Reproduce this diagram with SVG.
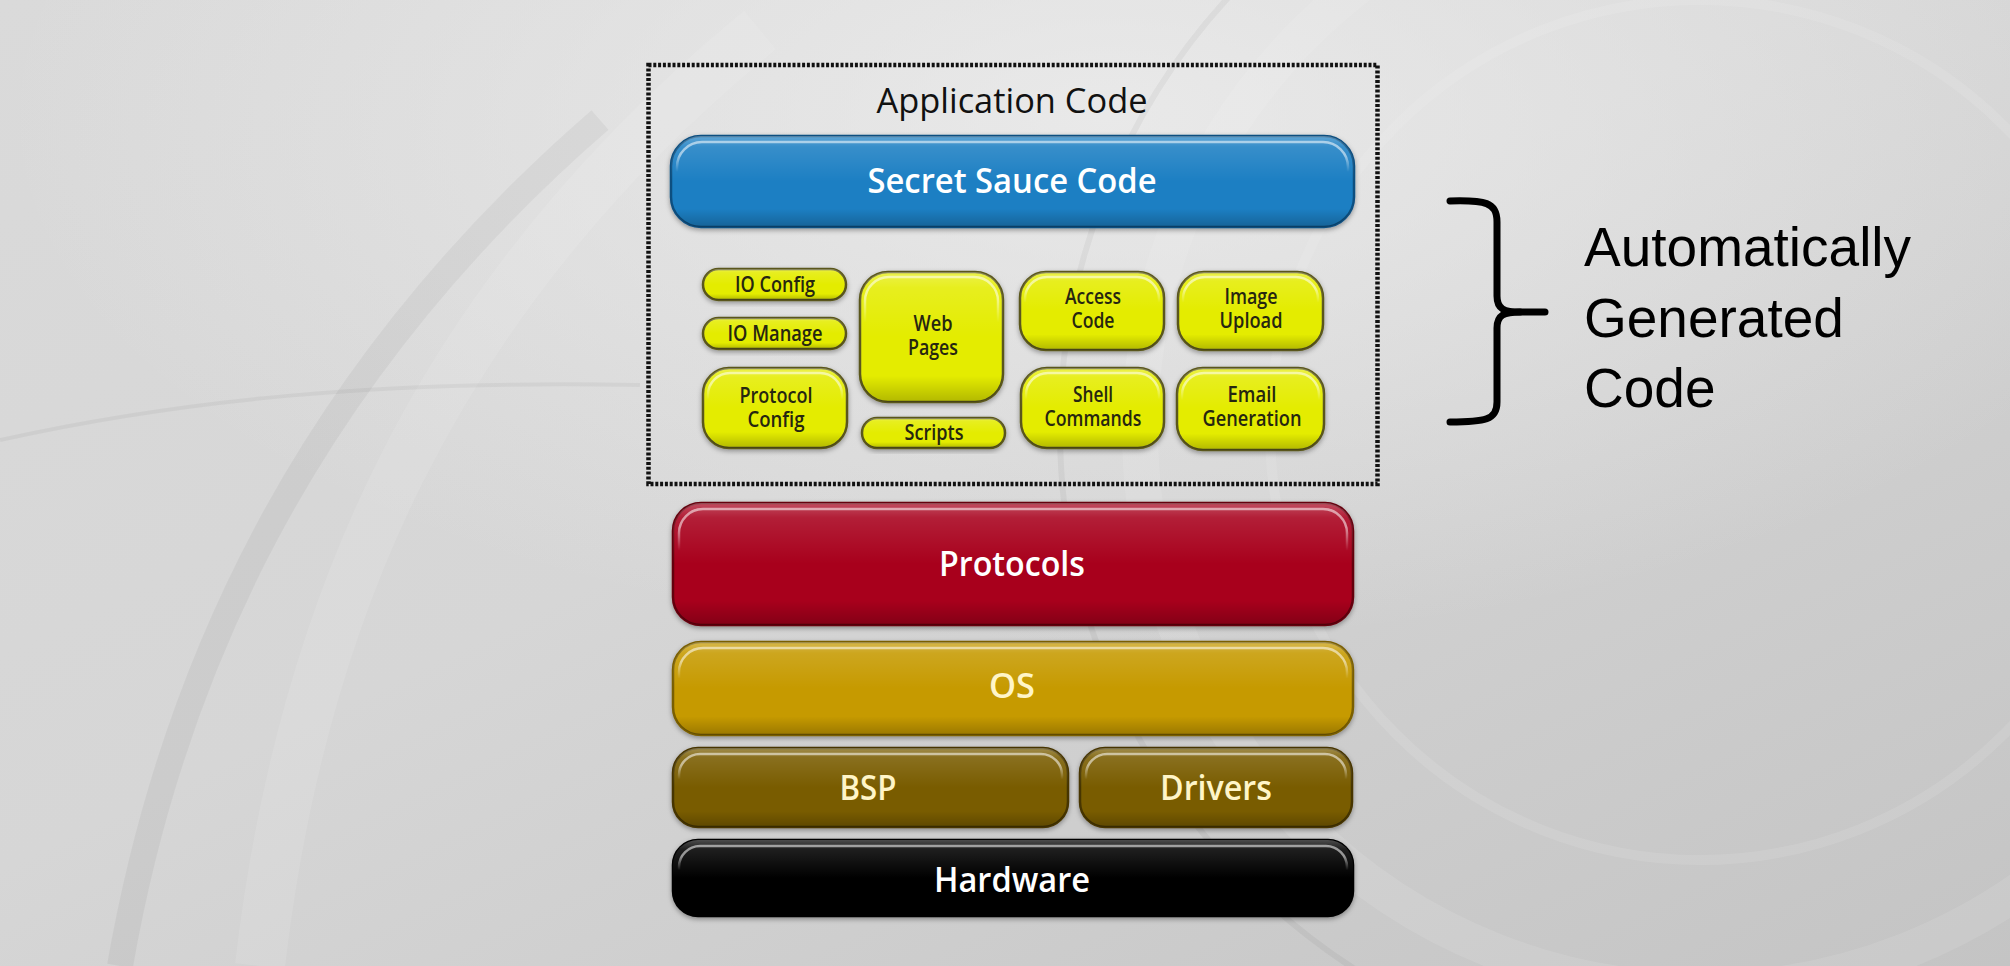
<svg xmlns="http://www.w3.org/2000/svg" width="2010" height="966" viewBox="0 0 2010 966">
  <defs>
    <linearGradient id="bg" x1="0" y1="0" x2="1" y2="1">
      <stop offset="0" stop-color="#dadada"/>
      <stop offset="0.45" stop-color="#d6d6d6"/>
      <stop offset="1" stop-color="#c4c4c4"/>
    </linearGradient>
    <radialGradient id="bgGlow" cx="0.55" cy="0.12" r="0.55">
      <stop offset="0" stop-color="#efefef" stop-opacity="0.75"/>
      <stop offset="1" stop-color="#efefef" stop-opacity="0"/>
    </radialGradient>
    <linearGradient id="gloss" x1="0" y1="0" x2="0" y2="1">
      <stop offset="0" stop-color="#fff" stop-opacity="0.30"/>
      <stop offset="0.12" stop-color="#fff" stop-opacity="0.12"/>
      <stop offset="0.5" stop-color="#fff" stop-opacity="0"/>
      <stop offset="0.8" stop-color="#000" stop-opacity="0"/>
      <stop offset="1" stop-color="#000" stop-opacity="0.22"/>
    </linearGradient>
    <linearGradient id="fade" x1="0" y1="0" x2="0" y2="1">
      <stop offset="0" stop-color="#fff"/>
      <stop offset="0.22" stop-color="#fff"/>
      <stop offset="0.4" stop-color="#000"/>
    </linearGradient>
    <mask id="topOnly" maskContentUnits="objectBoundingBox" x="-0.1" y="-0.1" width="1.2" height="1.2">
      <rect x="-0.1" y="-0.1" width="1.2" height="1.2" fill="url(#fade)"/>
    </mask>
    <filter id="shadow" x="-5%" y="-10%" width="110%" height="130%">
      <feDropShadow dx="0" dy="2" stdDeviation="2.5" flood-color="#000" flood-opacity="0.35"/>
    </filter>
    <style>
      .lbl { font-family: "Open Sans", "Liberation Sans", sans-serif; font-weight: 600; text-anchor: middle; }
      .big { font-size: 35px; }
      .small { font-size: 21px; fill: #262610; }
      .white { fill: #ffffff; }
      .cream { fill: #fff5c8; }
      .gloss { fill: url(#gloss); stroke: none; }
      .hi { fill: none; stroke: #ffffff; stroke-opacity: 0.55; stroke-width: 2.5; mask: url(#topOnly); }
      .blue { fill: #1b7fc3; stroke: #0e4f80; stroke-width: 2.5; filter: url(#shadow); }
      .yellow { fill: #e4ec06; stroke: #5a571c; stroke-width: 2.5; filter: url(#shadow); }
      .red { fill: #a8001c; stroke: #650010; stroke-width: 2.5; filter: url(#shadow); }
      .gold { fill: #c69a00; stroke: #7a5e00; stroke-width: 2.5; filter: url(#shadow); }
      .olive { fill: #795c00; stroke: #463500; stroke-width: 2.5; filter: url(#shadow); }
      .black { fill: #040404; stroke: #000; stroke-width: 2.5; filter: url(#shadow); }
    </style>
  </defs>

  <!-- backdrop -->
  <rect width="2010" height="966" fill="url(#bg)"/>
  <rect width="2010" height="966" fill="url(#bgGlow)"/>
  <g fill="none" stroke="#ffffff" stroke-opacity="0.10">
    <circle cx="1700" cy="430" r="560" stroke-width="36"/>
    <circle cx="1700" cy="430" r="430" stroke-width="10"/>
    <path d="M260,966 C300,620 430,300 760,30" stroke-width="50"/>
  </g>
  <g fill="none" stroke="#000000" stroke-opacity="0.045">
    <circle cx="1700" cy="430" r="640" stroke-width="6"/>
    <path d="M120,966 C170,680 300,380 600,120" stroke-width="26"/>
    <path d="M0,440 C180,400 380,380 640,385" stroke-width="4"/>
  </g>

  <!-- application code frame -->
  <g id="app-frame">
    <rect x="648.5" y="65" width="729" height="419" fill="none" stroke="#111" stroke-width="4.5" stroke-dasharray="3 1.8"/>
    <text x="1012" y="113" font-family="'Open Sans', 'Liberation Sans', sans-serif" font-size="35" fill="#111" text-anchor="middle" textLength="271" lengthAdjust="spacingAndGlyphs">Application Code</text>
  </g>

  <g id="secret-sauce">
    <rect class="blue" x="671" y="136" width="683" height="91" rx="30"/>
    <rect class="gloss" x="671" y="136" width="683" height="91" rx="30"/>
    <rect class="hi" x="677" y="142" width="671" height="79" rx="25"/>
    <text class="lbl big white" x="1012" y="193" textLength="289" lengthAdjust="spacingAndGlyphs">Secret Sauce Code</text>
  </g>

  <g id="io-config">
    <rect class="yellow" x="703" y="269" width="143" height="31" rx="15.5"/>
    <rect class="gloss" x="703" y="269" width="143" height="31" rx="15.5"/>
    <text class="lbl small" x="775" y="292" textLength="80" lengthAdjust="spacingAndGlyphs">IO Config</text>
  </g>

  <g id="io-manage">
    <rect class="yellow" x="703" y="318" width="143" height="31" rx="15.5"/>
    <rect class="gloss" x="703" y="318" width="143" height="31" rx="15.5"/>
    <text class="lbl small" x="775" y="341" textLength="95" lengthAdjust="spacingAndGlyphs">IO Manage</text>
  </g>

  <g id="protocol-config">
    <rect class="yellow" x="703" y="368" width="144" height="80" rx="26"/>
    <rect class="gloss" x="703" y="368" width="144" height="80" rx="26"/>
    <rect class="hi" x="708" y="373" width="134" height="70" rx="22"/>
    <text class="lbl small" x="776" y="403" textLength="73" lengthAdjust="spacingAndGlyphs">Protocol</text>
    <text class="lbl small" x="776" y="427" textLength="57" lengthAdjust="spacingAndGlyphs">Config</text>
  </g>

  <g id="web-pages">
    <rect class="yellow" x="860" y="272" width="143" height="130" rx="28"/>
    <rect class="gloss" x="860" y="272" width="143" height="130" rx="28"/>
    <rect class="hi" x="865" y="277" width="133" height="120" rx="24"/>
    <text class="lbl small" x="933" y="331" textLength="39" lengthAdjust="spacingAndGlyphs">Web</text>
    <text class="lbl small" x="933" y="355" textLength="50" lengthAdjust="spacingAndGlyphs">Pages</text>
  </g>

  <g id="scripts">
    <rect class="yellow" x="862" y="418" width="143" height="30" rx="15"/>
    <rect class="gloss" x="862" y="418" width="143" height="30" rx="15"/>
    <text class="lbl small" x="934" y="440" textLength="59" lengthAdjust="spacingAndGlyphs">Scripts</text>
  </g>

  <g id="access-code">
    <rect class="yellow" x="1020" y="272" width="144" height="78" rx="26"/>
    <rect class="gloss" x="1020" y="272" width="144" height="78" rx="26"/>
    <rect class="hi" x="1025" y="277" width="134" height="68" rx="22"/>
    <text class="lbl small" x="1093" y="304" textLength="56" lengthAdjust="spacingAndGlyphs">Access</text>
    <text class="lbl small" x="1093" y="328" textLength="43" lengthAdjust="spacingAndGlyphs">Code</text>
  </g>

  <g id="image-upload">
    <rect class="yellow" x="1178" y="272" width="145" height="78" rx="26"/>
    <rect class="gloss" x="1178" y="272" width="145" height="78" rx="26"/>
    <rect class="hi" x="1183" y="277" width="135" height="68" rx="22"/>
    <text class="lbl small" x="1251" y="304" textLength="53" lengthAdjust="spacingAndGlyphs">Image</text>
    <text class="lbl small" x="1251" y="328" textLength="63" lengthAdjust="spacingAndGlyphs">Upload</text>
  </g>

  <g id="shell-commands">
    <rect class="yellow" x="1021" y="368" width="143" height="80" rx="26"/>
    <rect class="gloss" x="1021" y="368" width="143" height="80" rx="26"/>
    <rect class="hi" x="1026" y="373" width="133" height="70" rx="22"/>
    <text class="lbl small" x="1093" y="402" textLength="40" lengthAdjust="spacingAndGlyphs">Shell</text>
    <text class="lbl small" x="1093" y="426" textLength="97" lengthAdjust="spacingAndGlyphs">Commands</text>
  </g>

  <g id="email-generation">
    <rect class="yellow" x="1177" y="368" width="147" height="82" rx="26"/>
    <rect class="gloss" x="1177" y="368" width="147" height="82" rx="26"/>
    <rect class="hi" x="1182" y="373" width="137" height="72" rx="22"/>
    <text class="lbl small" x="1252" y="402" textLength="49" lengthAdjust="spacingAndGlyphs">Email</text>
    <text class="lbl small" x="1252" y="426" textLength="99" lengthAdjust="spacingAndGlyphs">Generation</text>
  </g>

  <!-- platform stack -->
  <g id="protocols">
    <rect class="red" x="673" y="503" width="680" height="122" rx="28"/>
    <rect class="gloss" x="673" y="503" width="680" height="122" rx="28"/>
    <rect class="hi" x="679" y="509" width="668" height="110" rx="24"/>
    <text class="lbl big white" x="1012" y="576" textLength="146" lengthAdjust="spacingAndGlyphs">Protocols</text>
  </g>

  <g id="os">
    <rect class="gold" x="673" y="642" width="680" height="93" rx="28"/>
    <rect class="gloss" x="673" y="642" width="680" height="93" rx="28"/>
    <rect class="hi" x="679" y="648" width="668" height="81" rx="24"/>
    <text class="lbl big cream" x="1012" y="698" textLength="46" lengthAdjust="spacingAndGlyphs">OS</text>
  </g>

  <g id="bsp">
    <rect class="olive" x="673" y="748" width="395" height="79" rx="25"/>
    <rect class="gloss" x="673" y="748" width="395" height="79" rx="25"/>
    <rect class="hi" x="679" y="754" width="383" height="67" rx="21"/>
    <text class="lbl big cream" x="868" y="800" textLength="57" lengthAdjust="spacingAndGlyphs">BSP</text>
  </g>

  <g id="drivers">
    <rect class="olive" x="1080" y="748" width="272" height="79" rx="25"/>
    <rect class="gloss" x="1080" y="748" width="272" height="79" rx="25"/>
    <rect class="hi" x="1086" y="754" width="260" height="67" rx="21"/>
    <text class="lbl big cream" x="1216" y="800" textLength="112" lengthAdjust="spacingAndGlyphs">Drivers</text>
  </g>

  <g id="hardware">
    <rect class="black" x="673" y="840" width="680" height="76" rx="25"/>
    <rect class="gloss" x="673" y="840" width="680" height="76" rx="25"/>
    <rect class="hi" x="679" y="846" width="668" height="64" rx="21"/>
    <text class="lbl big white" x="1012" y="892" textLength="156" lengthAdjust="spacingAndGlyphs">Hardware</text>
  </g>

  <!-- brace and annotation -->
  <g id="connectors" fill="none" stroke="#000" stroke-width="7" stroke-linecap="round" stroke-linejoin="round">
    <path d="M1450,201 C1485,200 1497,202 1497,222 L1497,296 C1497,309 1504,312 1520,312 L1545,312"/>
    <path d="M1520,312 C1504,312 1497,315 1497,328 L1497,402 C1497,420 1485,422 1450,422"/>
  </g>
  <g id="auto-generated" font-family="'Liberation Sans', Arial, sans-serif" font-size="55" fill="#000">
    <text x="1584" y="266">Automatically</text>
    <text x="1584" y="337">Generated</text>
    <text x="1584" y="407">Code</text>
  </g>
</svg>
